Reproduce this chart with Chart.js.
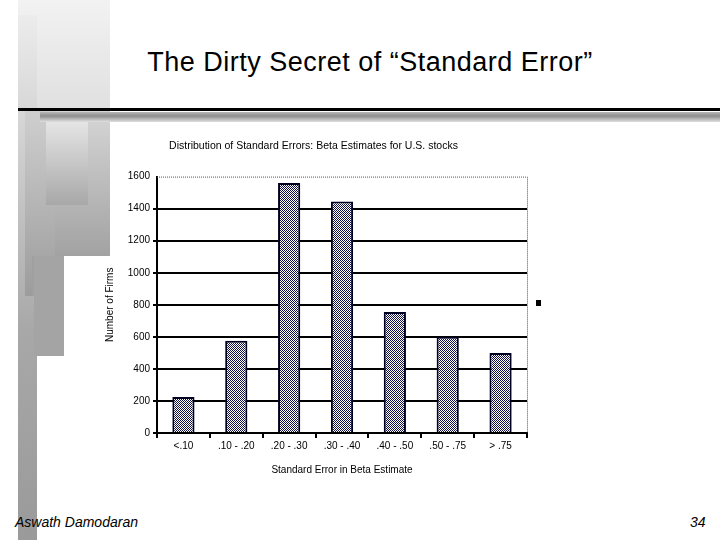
<!DOCTYPE html>
<html>
<head>
<meta charset="utf-8">
<script src="https://cdn.jsdelivr.net/npm/chart.js@4"></script>
<style>
  body { margin: 0; width: 720px; height: 540px; background: #fff; position: relative; overflow: hidden; font-family: "Liberation Sans", Arial, sans-serif; }
  .deco { position: absolute; }
  #slideTitle { position: absolute; left: 0; width: 740px; top: 47px; text-align: center; font-size: 27px; letter-spacing: 0.5px; color: #000; }
  #chartBox { position: absolute; left: 100px; top: 130px; width: 445px; height: 350px; }
  .foot { position: absolute; font-style: italic; font-size: 14px; color: #000; }
</style>
</head>
<body>
<!-- left side decoration -->
<div class="deco" style="left:18px;top:0;width:92px;height:256px;background:linear-gradient(#f2f2f2,#c8c8c8);"></div>
<div class="deco" style="left:18px;top:15px;width:19px;height:525px;background:linear-gradient(#ececec,#a8a8a8 60%,#9a9a9a);"></div>
<div class="deco" style="left:25px;top:110px;width:30px;height:186px;background:linear-gradient(#cfcfcf,#9c9c9c);"></div>
<div class="deco" style="left:55px;top:110px;width:55px;height:146px;background:linear-gradient(#d6d6d6,#a2a2a2);"></div>
<div class="deco" style="left:46px;top:117px;width:42px;height:88px;background:linear-gradient(#e8e8e8,#a8a8a8);"></div>
<div class="deco" style="left:32px;top:256px;width:32px;height:40px;background:#a0a0a0;"></div>
<div class="deco" style="left:34px;top:256px;width:30px;height:100px;background:#a4a4a4;"></div>
<div class="deco" style="left:18px;top:108px;width:702px;height:3px;background:#000;"></div>
<div class="deco" style="left:40px;top:112px;width:680px;height:10px;background:linear-gradient(#b8b8b8,#8e8e8e 40%,#e0e0e0);"></div>
<div class="deco" style="left:536px;top:300px;width:5px;height:6px;background:#000;"></div>

<div id="slideTitle">The Dirty Secret of “Standard Error”</div>
<div id="chartBox"><canvas id="chart"></canvas></div>
<div class="foot" style="left:15px;top:514px;">Aswath Damodaran</div>
<div class="foot" style="left:690px;top:514px;">34</div>

<script>
const categories = ["<.10", ".10 - .20", ".20 - .30", ".30 - .40", ".40 - .50", ".50 - .75", "> .75"];
const firmCounts = [225, 575, 1560, 1445, 755, 600, 500];
const yMax = 1600;
const yStep = 200;

// checkerboard fill like the old Excel hatch
const tile = document.createElement("canvas");
tile.width = 2; tile.height = 2;
const tctx = tile.getContext("2d");
tctx.fillStyle = "#ffffff";
tctx.fillRect(0, 0, 2, 2);
tctx.fillStyle = "#10104a";
tctx.fillRect(0, 0, 1, 1);
tctx.fillRect(1, 1, 1, 1);

const ctx = document.getElementById("chart").getContext("2d");
const hatch = ctx.createPattern(tile, "repeat");

const dottedFrame = {
  id: "dottedFrame",
  afterDatasetsDraw(chart) {
    const a = chart.chartArea;
    const c = chart.ctx;
    c.save();
    c.strokeStyle = "#555";
    c.lineWidth = 1;
    c.setLineDash([1, 1]);
    c.beginPath();
    c.moveTo(a.left, a.top + 0.5);
    c.lineTo(a.right + 0.5, a.top + 0.5);
    c.lineTo(a.right + 0.5, a.bottom);
    c.stroke();
    c.restore();
  }
};

const tickFont = { family: "Liberation Sans", size: 10 };

new Chart(ctx, {
  type: "bar",
  data: {
    labels: categories,
    datasets: [{
      data: firmCounts,
      backgroundColor: hatch,
      borderColor: "#000020",
      borderWidth: 2,
      borderSkipped: "bottom",
      barPercentage: 0.42,
      categoryPercentage: 1
    }]
  },
  options: {
    responsive: true,
    maintainAspectRatio: false,
    animation: false,
    layout: { padding: { left: 0, right: 18, top: 0, bottom: 0 } },
    plugins: {
      legend: { display: false },
      tooltip: { enabled: false },
      title: {
        display: true,
        text: "Distribution of Standard Errors: Beta Estimates for U.S. stocks",
        color: "#000",
        font: { family: "Liberation Sans", size: 10.5, weight: "normal" },
        padding: { top: 10, bottom: 24 }
      }
    },
    scales: {
      x: {
        offset: true,
        grid: { display: true, offset: true, drawOnChartArea: false, drawTicks: true, tickLength: 5, color: "#000", lineWidth: 2 },
        border: { display: true, color: "#000", width: 2 },
        ticks: { color: "#000", font: tickFont, padding: 2, maxRotation: 0, autoSkip: false },
        title: { display: true, text: "Standard Error in Beta Estimate", color: "#000", font: tickFont, padding: { top: 12 } },
        afterFit(scale) { scale.height = 47; }
      },
      y: {
        min: 0,
        max: yMax,
        ticks: { stepSize: yStep, color: "#000", font: tickFont, padding: 3, callback: v => String(v) },
        grid: {
          color: c => (c.tick && c.tick.value === yMax) ? "rgba(0,0,0,0)" : "#000",
          lineWidth: 2,
          tickLength: 4,
          drawTicks: true
        },
        border: { display: true, color: "#000", width: 2 },
        title: { display: true, text: "Number of Firms", color: "#000", font: tickFont, padding: { bottom: 8 } },
        afterFit(scale) { scale.width = 57; }
      }
    }
  },
  plugins: [dottedFrame]
});
</script>
</body>
</html>
